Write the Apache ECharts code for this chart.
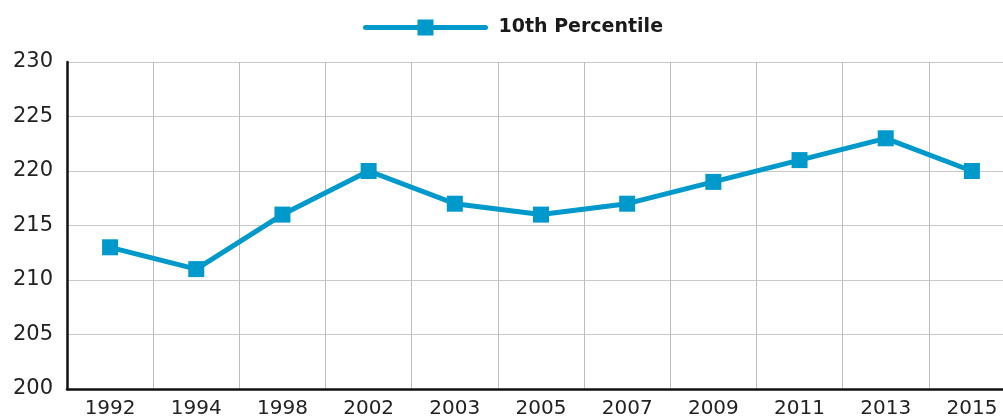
<!DOCTYPE html>
<html><head><meta charset="utf-8">
<script src="https://cdn.jsdelivr.net/npm/echarts@6/dist/echarts.min.js"></script>
<style>html,body{margin:0;padding:0;background:#fff;overflow:hidden}#c{width:1015px;height:419px}</style>
</head><body><div id="c"></div>
<script>
const categories = ['1992','1994','1998','2002','2003','2005','2007','2009','2011','2013','2015'];
const seriesName = '10th Percentile';
const values = [213,211,216,220,217,216,217,219,221,223,220];
const yMin = 200, yMax = 230, yStep = 5;
const color = '#0099cc';
const font = 'DejaVu Sans';
const chart = echarts.init(document.getElementById('c'));
chart.setOption({
  animation:false,
  legend:{top:13,left:358,itemWidth:120,itemHeight:20,itemGap:20,
    lineStyle:{width:5,color:color,cap:'round'},
    textStyle:{fontFamily:font,fontWeight:'bold',fontSize:19,color:'#1a1a1a',padding:[0,0,0,8]},
    data:[seriesName]},
  grid:{left:67,top:62,bottom:30,right:0,containLabel:false},
  xAxis:{type:'category',data:categories,boundaryGap:true,
    axisLine:{lineStyle:{color:'#111',width:2.5}},axisTick:{show:false},
    axisLabel:{fontFamily:font,fontSize:20,color:'#222',margin:10},
    splitLine:{show:true,lineStyle:{color:'#bdbdbd',width:1}}},
  yAxis:{type:'value',min:yMin,max:yMax,interval:yStep,
    axisLine:{show:true,lineStyle:{color:'#111',width:2.5}},axisTick:{show:false},
    axisLabel:{fontFamily:font,fontSize:21,color:'#222',margin:14},
    splitLine:{lineStyle:{color:'#c8c8c8',width:1}}},
  series:[{name:seriesName,type:'line',data:values,symbol:'rect',symbolSize:16,
    lineStyle:{color:color,width:5},itemStyle:{color:color}}]
});
</script></body></html>
